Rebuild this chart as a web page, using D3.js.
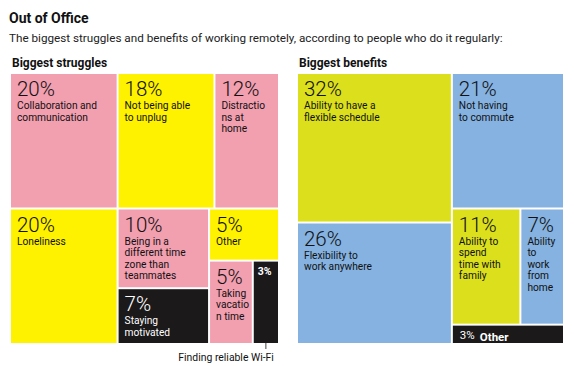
<!DOCTYPE html>
<html>
<head>
<meta charset="utf-8">
<script src="https://cdn.jsdelivr.net/npm/d3@7"></script>
<style>
  body { margin: 0; background: #fff; }
  svg text { font-family: "Roboto", sans-serif; }
</style>
</head>
<body>
<svg id="chart" width="574" height="366"></svg>
<script>
"use strict";

// chart data

var struggleLabels = [
    "Collaboration and\ncommunication", "Not being able\nto unplug", "Distractio\nns at\nhome",
    "Loneliness", "Being in a\ndifferent time\nzone than\nteammates", "Staying\nmotivated",
    "Other", "Taking\nvacatio\nn time", "Finding reliable Wi-Fi"
];
var struggleValues = [20, 18, 12, 20, 10, 7, 5, 5, 3];
// how the cells are grouped (indices into the arrays above)
var struggleGroups = [[0, 1, 2], [3, [4, 5], [6, [7, 8]]]];

var benefitLabels = [
    "Ability to have a\nflexible schedule", "Flexibility to\nwork anywhere", "Not having\nto commute",
    "Ability to\nspend\ntime with\nfamily", "Ability\nto\nwork\nfrom\nhome", "Other"
];
var benefitValues = [32, 26, 21, 11, 7, 3];
var benefitGroups = [[0, 1], [2, [3, 4], 5]];


var svg = d3.select("#chart");

svg.append("text")
    .attr("x", 9).attr("y", 23)
    .style("font-size", "14px").style("font-weight", "bold")
    .attr("fill", "#111")
    .text("Out of Office");

svg.append("text")
    .attr("x", 9).attr("y", 42)
    .style("font-size", "11.7px")
    .attr("fill", "#222")
    .text("The biggest struggles and benefits of working remotely, according to people who do it regularly:");


function build_tree(groups, labels, values) {
    if (groups instanceof Array) {
        return { children: groups.map(function (g) { return build_tree(g, labels, values); }) };
    }
    return { index: groups, label: labels[groups], value: values[groups] };
}

// alternate slice / dice by depth, starting with the given one
function tiler(start_slice) {
    return function (node, x0, y0, x1, y1) {
        var slice = (node.depth % 2 === 0) === start_slice;
        (slice ? d3.treemapSlice : d3.treemapDice)(node, x0, y0, x1, y1);
    };
}

function draw_treemap(opts) {
    var root = d3.hierarchy(build_tree(opts.groups, opts.labels, opts.values))
        .sum(function (d) { return d.value || 0; });

    d3.treemap()
        .tile(tiler(opts.start_slice))
        .size([opts.width, opts.height])
        .paddingInner(2)
        .round(false)(root);

    var g = svg.append("g")
        .attr("transform", "translate(" + opts.x + "," + opts.y + ")");

    svg.append("text")
        .attr("x", opts.x + 1).attr("y", opts.y - 7)
        .style("font-size", "12px").style("font-weight", "bold")
        .attr("fill", "#111")
        .text(opts.title);

    var cells = g.selectAll("g.cell")
        .data(root.leaves())
        .enter().append("g")
        .attr("class", "cell")
        .attr("transform", function (d) { return "translate(" + d.x0 + "," + d.y0 + ")"; });

    cells.append("rect")
        .attr("width", function (d) { return d.x1 - d.x0; })
        .attr("height", function (d) { return d.y1 - d.y0; })
        .attr("fill", function (d) { return opts.fill[d.data.index]; });

    cells.each(function (d) {
        var cell = d3.select(this);
        var dark = opts.fill[d.data.index] === black;
        var color = dark ? "#fff" : "#111";
        var pct = d.data.value + "%";
        var style = opts.style[d.data.index] || "normal";

        if (style === "small") {
            // tiny cell, label sits outside
            cell.append("text")
                .attr("x", 4).attr("y", 13)
                .attr("fill", color)
                .style("font-size", "10.5px").style("font-weight", "bold")
                .text(pct);
            return;
        }
        if (style === "inline") {
            cell.append("text")
                .attr("x", 7).attr("y", 13)
                .attr("fill", color)
                .style("font-size", "11.5px")
                .text(pct);
            cell.append("text")
                .attr("x", 27).attr("y", 15)
                .attr("fill", color)
                .style("font-size", "11.5px").style("font-weight", "bold")
                .text(d.data.label);
            return;
        }

        cell.append("text")
            .attr("x", 6).attr("y", 22)
            .attr("fill", color)
            .style("font-size", "20.5px").style("font-weight", "300")
            .text(pct);

        cell.append("text")
            .attr("fill", color)
            .style("font-size", "10.2px")
            .selectAll("tspan")
            .data(d.data.label.split("\n"))
            .enter().append("tspan")
            .attr("x", 6)
            .attr("y", function (t, i) { return 35 + i * 11.6; })
            .text(function (t) { return t; });
    });

    return root;
}

var pink = "#f29fb0", yellow = "#fff200", black = "#1b191a",
    lime = "#dce01c", blue = "#85b2e0";

var struggles = draw_treemap({
    title: "Biggest struggles",
    groups: struggleGroups, labels: struggleLabels, values: struggleValues,
    fill: [pink, yellow, pink, yellow, pink, black, yellow, pink, black],
    style: { 8: "small" },
    start_slice: true,
    x: 11, y: 74, width: 267, height: 269
});

draw_treemap({
    title: "Biggest benefits",
    groups: benefitGroups, labels: benefitLabels, values: benefitValues,
    fill: [lime, blue, blue, lime, blue, black],
    style: { 5: "inline" },
    start_slice: false,
    x: 298, y: 74, width: 265, height: 269
});

// callout for the tiny wi-fi cell
var wifi = struggles.leaves().filter(function (d) { return d.data.index === 8; })[0];
var cx = 11 + (wifi.x0 + wifi.x1) / 2;
svg.append("line")
    .attr("x1", cx).attr("x2", cx)
    .attr("y1", 74 + wifi.y1).attr("y2", 74 + wifi.y1 + 6)
    .attr("stroke", "#444").attr("stroke-width", 1);
svg.append("text")
    .attr("x", cx + 8).attr("y", 361)
    .attr("text-anchor", "end")
    .attr("fill", "#111")
    .style("font-size", "10.4px")
    .text(wifi.data.label);
</script>
</body>
</html>
